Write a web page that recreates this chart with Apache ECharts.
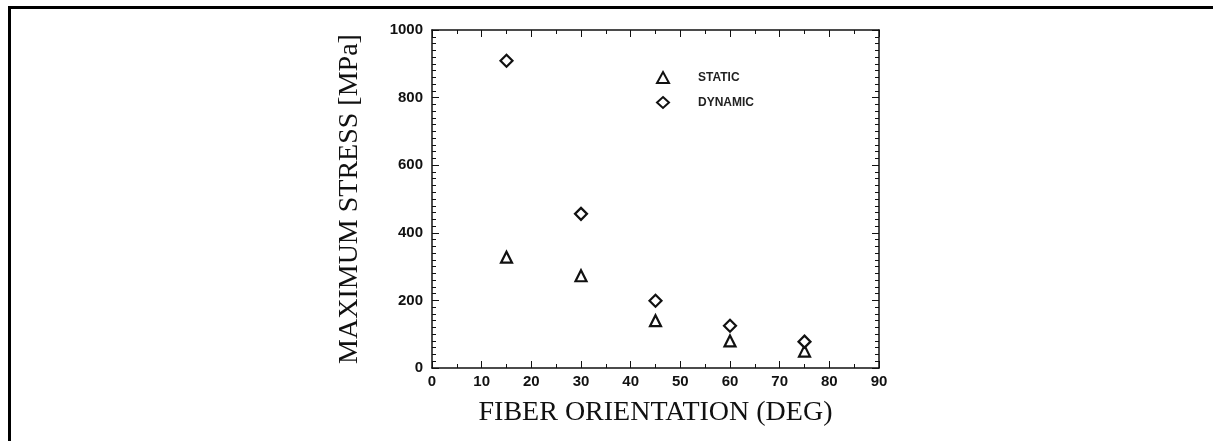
<!DOCTYPE html>
<html>
<head>
<meta charset="utf-8">
<script src="https://cdn.jsdelivr.net/npm/echarts@6/dist/echarts.min.js"></script>
<style>
html,body{margin:0;padding:0;background:#fff;}
#c{width:1213px;height:441px;}
</style>
</head>
<body>
<div id="c"></div>
<script>
const angles = [15, 30, 45, 60, 75];
const staticStress = [328, 273, 140, 80, 50];
const dynamicStress = [909, 456, 199, 125, 78];
const xTicks = [0, 10, 20, 30, 40, 50, 60, 70, 80, 90];
const yTicks = [0, 200, 400, 600, 800, 1000];
const seriesNames = ['STATIC', 'DYNAMIC'];

const chart = echarts.init(document.getElementById('c'), null, {renderer: 'canvas'});
const labelFont = {fontFamily: 'Liberation Sans, Arial, sans-serif', fontWeight: 'bold', fontSize: 15, color: '#111'};
const axisLine = {show: true, onZero: false, lineStyle: {color: '#111', width: 1.5}};
const tickIn = {show: true, inside: true, length: 7, lineStyle: {color: '#111', width: 1}};
const minorIn = {show: true, length: 4, lineStyle: {color: '#111', width: 1}};

chart.setOption({
  animation: false,
  backgroundColor: '#fff',
  graphic: [{
    type: 'rect', shape: {x: 9.5, y: 7.5, width: 1400, height: 600},
    style: {fill: 'none', stroke: '#000', lineWidth: 3}, silent: true
  }],
  grid: {left: 432, right: 334, top: 30, bottom: 73, containLabel: false},
  legend: {
    orient: 'vertical', left: 651, top: 66, itemGap: 12, itemWidth: 12, itemHeight: 11,
    data: seriesNames,
    textStyle: {fontFamily: 'Liberation Sans, Arial, sans-serif', fontWeight: 'bold', fontSize: 12, color: '#222', padding: [0, 0, 0, 24]}
  },
  xAxis: [{
    type: 'value', min: xTicks[0], max: xTicks[xTicks.length - 1], interval: 10,
    name: 'FIBER ORIENTATION (DEG)', nameLocation: 'middle', nameGap: 31,
    nameTextStyle: {fontFamily: 'Liberation Serif, Times New Roman, serif', fontSize: 28, color: '#111'},
    axisLine: axisLine, axisTick: tickIn,
    minorTick: Object.assign({splitNumber: 2}, minorIn),
    axisLabel: Object.assign({margin: 6, formatter: v => String(v)}, labelFont),
    splitLine: {show: false}, minorSplitLine: {show: false}
  }, {
    type: 'value', position: 'top', min: 0, max: 90, interval: 10,
    axisLine: axisLine, axisTick: tickIn,
    minorTick: Object.assign({splitNumber: 2}, minorIn),
    axisLabel: {show: false}, splitLine: {show: false}
  }],
  yAxis: [{
    type: 'value', min: yTicks[0], max: yTicks[yTicks.length - 1], interval: 200,
    name: 'MAXIMUM STRESS [MPa]', nameLocation: 'middle', nameGap: 68,
    nameTextStyle: {fontFamily: 'Liberation Serif, Times New Roman, serif', fontSize: 28, color: '#111'},
    axisLine: axisLine, axisTick: tickIn,
    minorTick: Object.assign({splitNumber: 10}, minorIn),
    axisLabel: Object.assign({margin: 9, formatter: v => String(v)}, labelFont),
    splitLine: {show: false}
  }, {
    type: 'value', position: 'right', min: 0, max: 1000, interval: 200,
    axisLine: axisLine, axisTick: tickIn,
    minorTick: Object.assign({splitNumber: 10}, minorIn),
    axisLabel: {show: false}, splitLine: {show: false}
  }],
  series: [{
    name: seriesNames[0], type: 'scatter', symbol: 'triangle', symbolSize: 11,
    itemStyle: {color: '#fff', borderColor: '#111', borderWidth: 2.2, opacity: 1},
    data: angles.map((a, i) => [a, staticStress[i]])
  }, {
    name: seriesNames[1], type: 'scatter', symbol: 'diamond', symbolSize: 12,
    itemStyle: {color: '#fff', borderColor: '#111', borderWidth: 2.2, opacity: 1},
    data: angles.map((a, i) => [a, dynamicStress[i]])
  }]
});
</script>
</body>
</html>
